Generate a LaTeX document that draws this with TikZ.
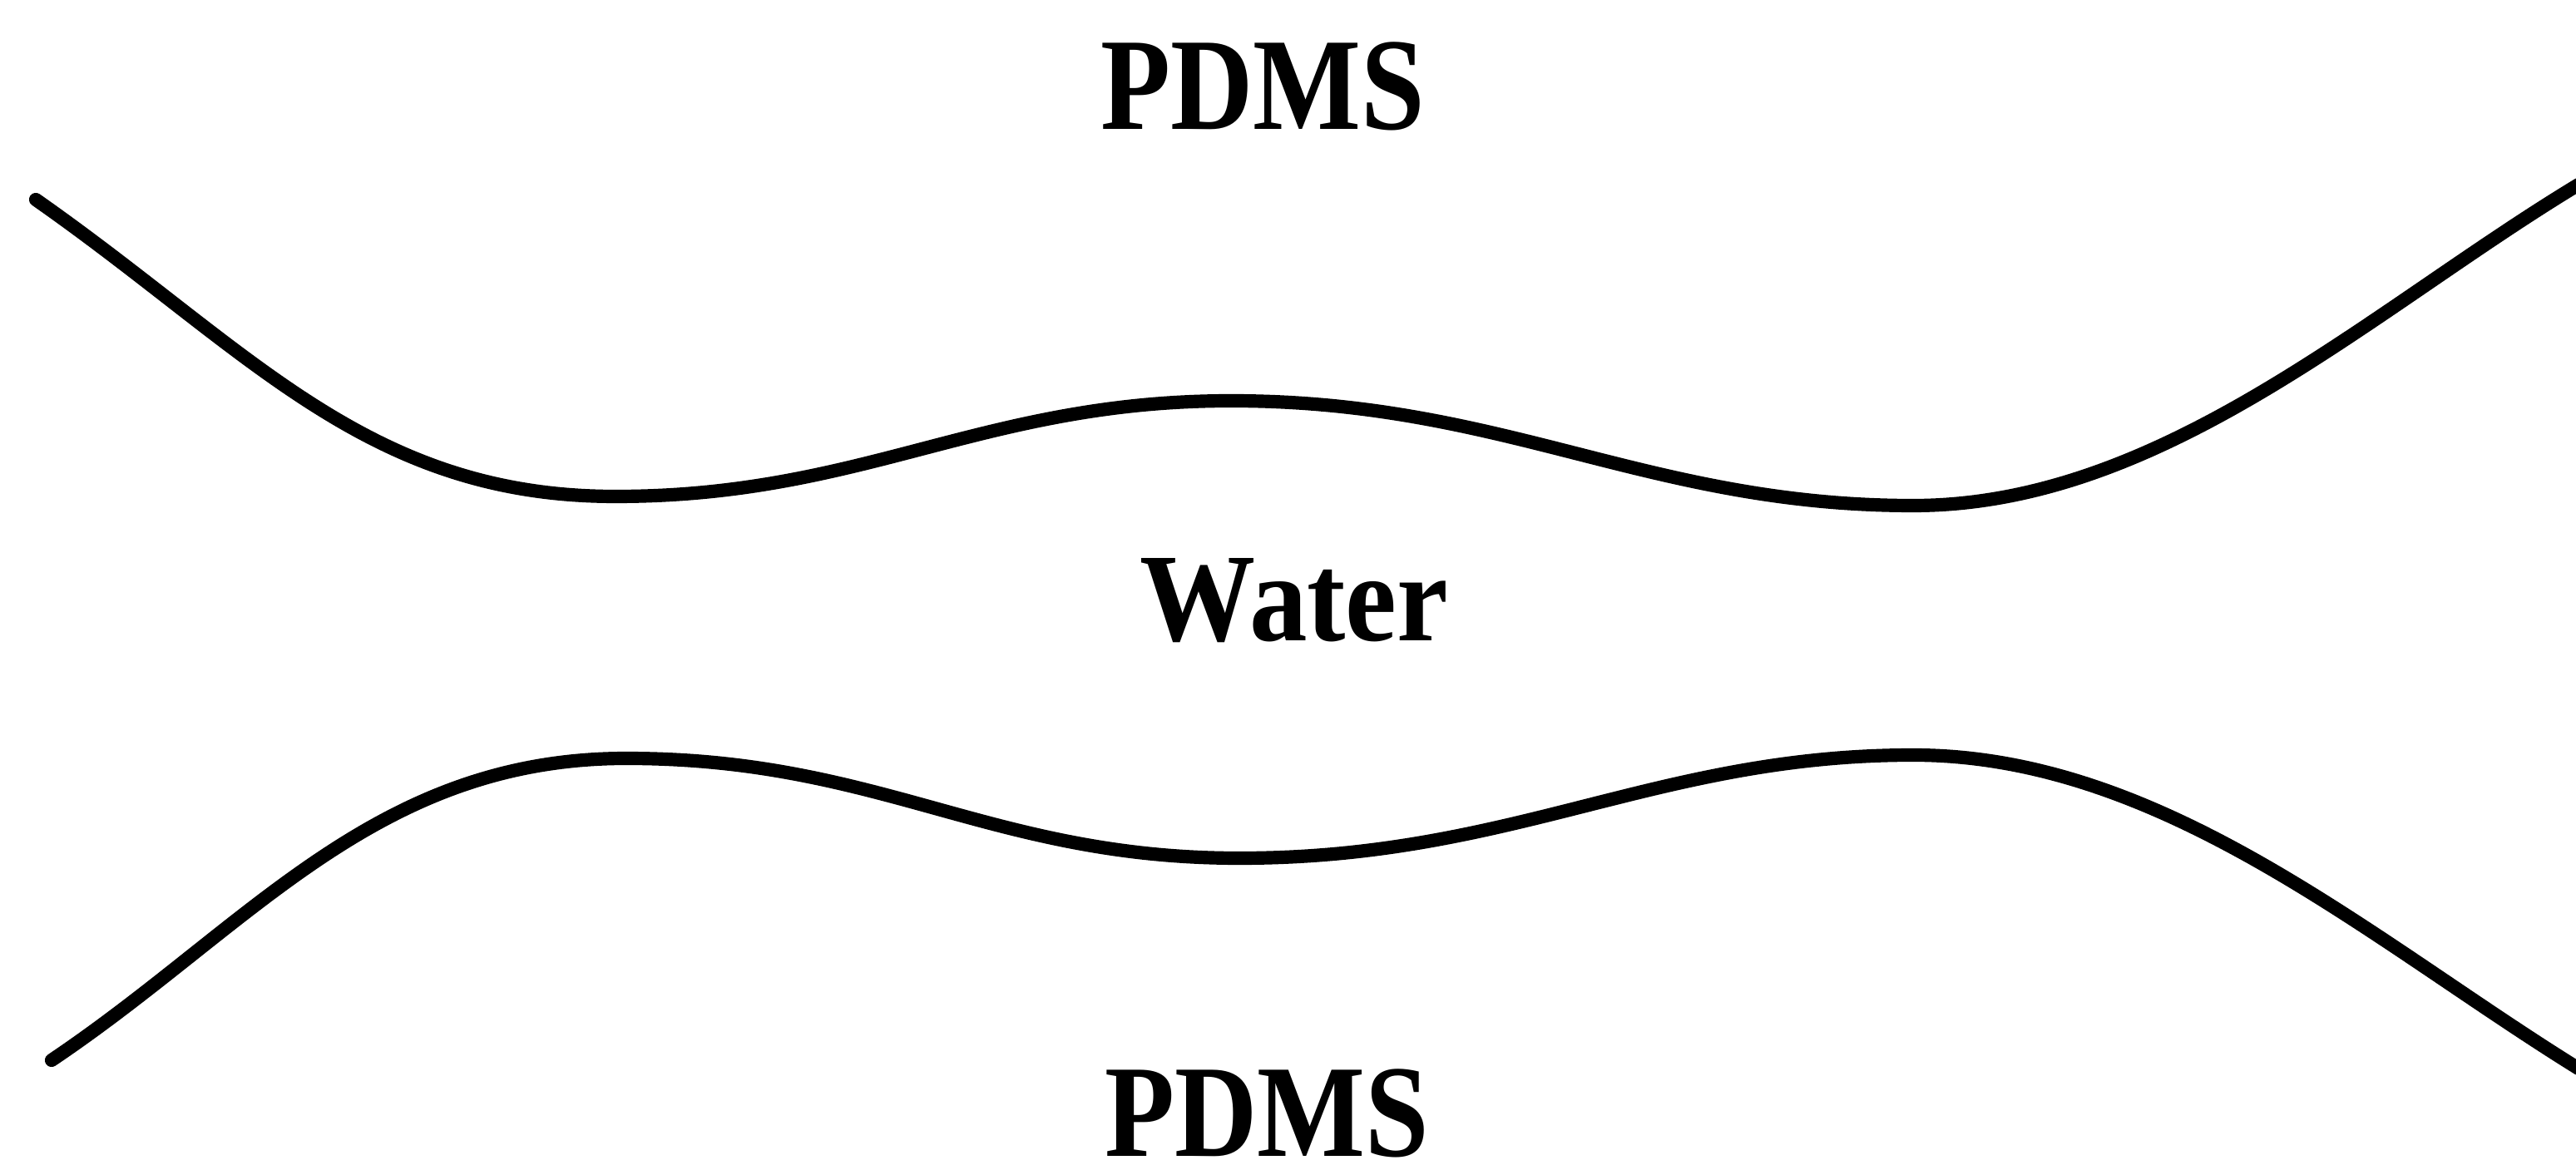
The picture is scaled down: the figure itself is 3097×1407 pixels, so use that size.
\documentclass[tikz,border=0pt]{standalone}
\usepackage{fontspec}
\setmainfont{Liberation Serif}
\begin{document}
\begin{tikzpicture}[x=0.01cm,y=-0.01cm,
  wall/.style={line width=4.6pt,line cap=round,black},
  lbl/.style={inner sep=0pt,outer sep=0pt,anchor=base,font=\fontsize{45pt}{45pt}\selectfont\bfseries}]
\useasboundingbox (0,0) rectangle (3097,1407);
% top wall
\draw[wall] (43,240) .. controls (300,420) and (440,597) .. (740,597)
  .. controls (1040,597) and (1180,482) .. (1480,482)
  .. controls (1810,482) and (1980,608) .. (2300,608)
  .. controls (2600,608) and (2850,373) .. (3100,222);
% bottom wall
\draw[wall] (62,1275) .. controls (300,1115) and (450,912) .. (753,912)
  .. controls (1060,912) and (1190,1032) .. (1490,1032)
  .. controls (1820,1032) and (1990,908) .. (2300,908)
  .. controls (2600,908) and (2850,1130) .. (3100,1285);
\node[lbl] (pdmstop) at (1518,156) {\scalebox{0.87}[1]{PDMS}};
\node[lbl,font=\fontsize{43pt}{43pt}\selectfont\bfseries] (water) at (1556,771) {\scalebox{0.92}[1]{Water}};
\node[lbl] (pdmsbot) at (1523,1390) {\scalebox{0.87}[1]{PDMS}};
\end{tikzpicture}
\end{document}
